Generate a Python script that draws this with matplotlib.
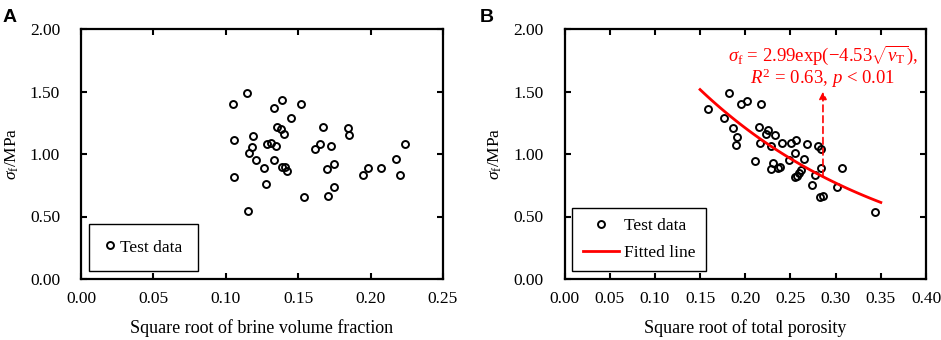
import numpy as np
import matplotlib
matplotlib.use("Agg")
import matplotlib.pyplot as plt

plt.rcParams['font.family'] = ['Liberation Serif', 'DejaVu Serif']
plt.rcParams['mathtext.fontset'] = 'custom'
plt.rcParams['mathtext.rm'] = 'Liberation Serif'
plt.rcParams['mathtext.it'] = 'Liberation Serif:italic'
plt.rcParams['mathtext.bf'] = 'Liberation Serif:bold'

# panel A: square root of brine volume fraction vs flexural strength
brine_x = [0.1144, 0.105, 0.139, 0.133, 0.152, 0.145, 0.1356, 0.138, 0.140, 0.167,
           0.106, 0.1185, 0.1178, 0.116, 0.1287, 0.131, 0.1345, 0.1206, 0.1336, 0.1266,
           0.1387, 0.141, 0.142, 0.1056, 0.1278, 0.1155, 0.154, 0.165, 0.1618, 0.1727,
           0.175, 0.170, 0.1745, 0.1706, 0.1843, 0.1854, 0.2236, 0.2178, 0.198, 0.1947,
           0.207, 0.2206]
brine_y = [1.487, 1.404, 1.431, 1.367, 1.399, 1.292, 1.216, 1.198, 1.158, 1.214,
           1.112, 1.141, 1.056, 1.005, 1.083, 1.091, 1.067, 0.949, 0.954, 0.887,
           0.895, 0.898, 0.866, 0.817, 0.761, 0.541, 0.654, 1.083, 1.043, 1.064,
           0.924, 0.882, 0.737, 0.662, 1.208, 1.150, 1.083, 0.957, 0.892, 0.836,
           0.890, 0.830]

# panel B: square root of total porosity vs flexural strength
poro_x = [0.182, 0.159, 0.195, 0.202, 0.217, 0.177, 0.1865, 0.191, 0.190, 0.215,
          0.225, 0.2227, 0.2327, 0.2168, 0.229, 0.2407, 0.2503, 0.256, 0.2548, 0.2113,
          0.2308, 0.228, 0.2363, 0.239, 0.248, 0.268, 0.280, 0.2836, 0.2647, 0.2836,
          0.3076, 0.262, 0.260, 0.2574, 0.2548, 0.277, 0.274, 0.301, 0.2825, 0.286,
          0.344]
poro_y = [1.487, 1.364, 1.399, 1.425, 1.399, 1.292, 1.206, 1.139, 1.069, 1.216,
          1.192, 1.163, 1.150, 1.085, 1.064, 1.085, 1.091, 1.115, 1.010, 0.946,
          0.930, 0.884, 0.890, 0.898, 0.951, 1.083, 1.061, 1.037, 0.957, 0.890,
          0.890, 0.876, 0.850, 0.828, 0.815, 0.836, 0.756, 0.734, 0.654, 0.662,
          0.536]

# fitted line sigma_f = a * exp(b * sqrt(vT))
fit_a = 2.99
fit_b = -4.53
fit_range = [0.15, 0.35]
arrow_x = 0.286
arrow_top = 1.50

fig = plt.figure(figsize=(9.41, 3.40), dpi=100)
axA = fig.add_axes([81 / 941, 61 / 340, 362 / 941, 250 / 340])
axB = fig.add_axes([564.5 / 941, 61 / 340, 361.5 / 941, 250 / 340])


def style_axis(ax, xmax):
    ax.set_ylim(0, 2.0)
    ax.set_xlim(0, xmax)
    ax.set_yticks(np.arange(0, 2.01, 0.5))
    ax.set_xticks(np.arange(0, xmax + 0.001, 0.05))
    ax.xaxis.set_major_formatter(matplotlib.ticker.FormatStrFormatter('%.2f'))
    ax.yaxis.set_major_formatter(matplotlib.ticker.FormatStrFormatter('%.2f'))
    for s in ax.spines.values():
        s.set_linewidth(1.6)
    ax.tick_params(direction='in', top=True, right=True, length=4.5, width=1.5,
                   labelsize=12.5)
    ax.tick_params(axis='y', pad=15)
    ax.tick_params(axis='x', pad=8.5)
    ax.set_ylabel(r'$\sigma_\mathrm{f}$/MPa', fontsize=12.5)
    ax.yaxis.set_label_coords(-0.167, 0.5)


style_axis(axA, 0.25)
axA.plot(brine_x, brine_y, 'o', ms=5, mfc='none', mec='black', mew=1.4,
         label='Test data')
axA.set_xlabel('Square root of brine volume fraction', fontsize=13, labelpad=9)
legA = axA.legend(loc='lower left', fontsize=12.5, handlelength=0.6,
                  handletextpad=0.3, borderpad=0.9, borderaxespad=0.45,
                  fancybox=False, edgecolor='black', framealpha=1, numpoints=1)
legA.get_frame().set_linewidth(1.0)

style_axis(axB, 0.40)
axB.plot(poro_x, poro_y, 'o', ms=5, mfc='none', mec='black', mew=1.4,
         label='Test data')
xs = np.linspace(fit_range[0], fit_range[1], 100)
ys = fit_a * np.exp(fit_b * xs)
axB.plot(xs, ys, color='#ff0000', lw=2.0, label='Fitted line')
axB.set_xlabel('Square root of total porosity', fontsize=13, labelpad=9)
legB = axB.legend(loc='lower left', fontsize=12.5, handlelength=2.1,
                  handletextpad=0.3, borderpad=0.6, borderaxespad=0.45,
                  labelspacing=0.6, fancybox=False, edgecolor='black',
                  framealpha=1, numpoints=1)
legB.get_frame().set_linewidth(1.0)

arrow_bottom = fit_a * np.exp(fit_b * arrow_x)
axB.annotate('', xy=(arrow_x, arrow_top), xytext=(arrow_x, arrow_bottom),
             arrowprops=dict(arrowstyle='-|>', linestyle=(0, (4, 2.5)),
                             color='#ff0000', lw=1.2, mutation_scale=11,
                             shrinkA=0, shrinkB=0))
axB.text(arrow_x, 1.70,
         '$\\sigma_\\mathrm{f}$ = 2.99exp(\u22124.53$\\sqrt{v_\\mathrm{T}}$),\n'
         '$R^2$ = 0.63, $p$ < 0.01',
         color='#ff0000', fontsize=13.5, ha='center', va='center',
         linespacing=1.0)

fig.text(3 / 941, 1 - 22 / 340, 'A', family='Liberation Sans', weight='bold',
         fontsize=14, va='baseline')
fig.text(480 / 941, 1 - 22 / 340, 'B', family='Liberation Sans', weight='bold',
         fontsize=14, va='baseline')

fig.savefig('out.png', dpi=100)
